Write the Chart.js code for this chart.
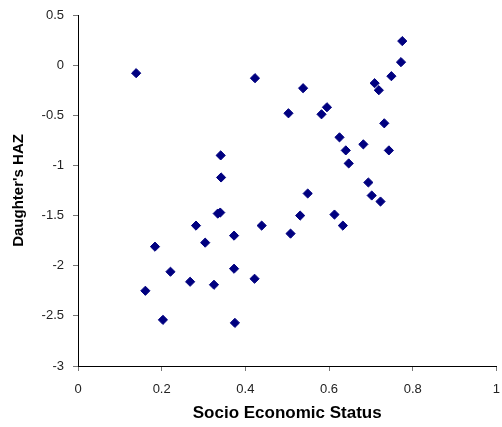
<!DOCTYPE html>
<html>
<head>
<meta charset="utf-8">
<script src="https://cdn.jsdelivr.net/npm/chart.js@4/dist/chart.umd.min.js"></script>
<style>
  html, body { margin: 0; padding: 0; background: #fff; }
</style>
</head>
<body>
<canvas id="sesChart" width="502" height="427"></canvas>
<script>
// Socio economic status (x) vs daughter's height-for-age z score (y)
const sesValues = [
    0.139, 0.423, 0.503, 0.341, 0.342, 0.775, 0.772, 0.749, 0.709, 0.719,
    0.538, 0.595, 0.582, 0.732, 0.625, 0.640, 0.682, 0.743, 0.647, 0.694,
    0.549, 0.702, 0.723, 0.531, 0.508, 0.613, 0.633, 0.334, 0.340, 0.282,
    0.439, 0.373, 0.304, 0.184, 0.221, 0.373, 0.268, 0.325, 0.422, 0.161,
    0.203, 0.375
]
const hazValues = [
    -0.08, -0.13, -0.48, -0.90, -1.12, 0.24, 0.03, -0.11, -0.18, -0.25,
    -0.23, -0.42, -0.49, -0.58, -0.72, -0.85, -0.79, -0.85, -0.98, -1.17,
    -1.28, -1.30, -1.36, -1.50, -1.68, -1.49, -1.60, -1.48, -1.47, -1.60,
    -1.60, -1.70, -1.77, -1.81, -2.06, -2.03, -2.16, -2.19, -2.13, -2.25,
    -2.54, -2.57
]
const xTitle = 'Socio Economic Status'
const yTitle = "Daughter's HAZ"

const points = sesValues.map((x, i) => ({x: x, y: hazValues[i]}))

const tickFont = {family: '"Liberation Sans", Arial, sans-serif', size: 13}
// Excel style tick labels: 0, 0.2, -1, -2.5 (no trailing zeros)
const plainNumber = value => String(Math.round(value * 10) / 10)

const scatterConfig = {
    type: 'scatter',
    data: {
        datasets: [{
            label: yTitle,
            data: points,
            pointStyle: 'rectRot',
            pointRadius: 4.6,
            pointBorderWidth: 1,
            backgroundColor: '#000080',
            borderColor: '#000080'
        }]
    },
    options: {
        responsive: false,
        animation: false,
        layout: {
            padding: {top: 15, right: 2, left: 0, bottom: 0}
        },
        plugins: {
            legend: {display: false},
            tooltip: {enabled: false}
        },
        scales: {
            x: {
                type: 'linear',
                min: 0,
                max: 1,
                ticks: {stepSize: 0.2, color: '#222', font: tickFont, padding: 11, maxRotation: 0, callback: plainNumber},
                grid: {drawOnChartArea: false, tickLength: 5, color: '#777'},
                border: {color: '#000', width: 1},
                title: {
                    display: true,
                    text: xTitle,
                    color: '#000',
                    font: {family: '"Liberation Sans", Arial, sans-serif', size: 17, weight: 'bold'},
                    padding: {top: 0, bottom: 3}
                },
                afterFit: function (scale) {
                    scale.height = 61
                    scale.paddingLeft = 0
                    scale.paddingRight = 0
                }
            },
            y: {
                type: 'linear',
                min: -3,
                max: 0.5,
                ticks: {stepSize: 0.5, color: '#222', font: tickFont, padding: 9, callback: plainNumber},
                grid: {drawOnChartArea: false, tickLength: 5, color: '#777'},
                border: {color: '#000', width: 1},
                title: {
                    display: true,
                    text: yTitle,
                    color: '#000',
                    font: {family: '"Liberation Sans", Arial, sans-serif', size: 15, weight: 'bold'},
                    padding: {top: 10, bottom: 0}
                },
                afterFit: function (scale) {
                    scale.width = 78
                    scale.paddingTop = 0
                    scale.paddingBottom = 0
                }
            }
        }
    }
}

var sesChart = new Chart(document.getElementById('sesChart'), scatterConfig)
</script>
</body>
</html>
